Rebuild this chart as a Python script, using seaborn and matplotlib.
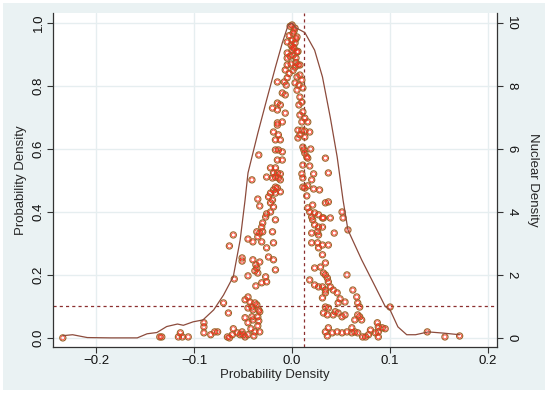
import matplotlib
matplotlib.use("Agg")
from matplotlib import pyplot as plt
from matplotlib.patches import Rectangle
import seaborn as sns
import pandas as pd

# scattered observations (left axis)
pt_x = [
    -0.234, -0.135, -0.133, -0.116, -0.114, -0.112, -0.106, -0.090, -0.090, -0.090,
    -0.083, -0.079, -0.076, -0.070, -0.065,
    -0.060, -0.064, -0.051, -0.051, -0.059, -0.066, -0.064, -0.061, -0.060, -0.056,
    -0.053, -0.050, -0.048, -0.051, -0.045, -0.040, -0.035, -0.031, -0.026, -0.019,
    -0.040, -0.037, -0.036, -0.038, -0.033, -0.045, -0.035, -0.027, -0.026, -0.031,
    -0.037, -0.024, -0.019, -0.017, -0.045, -0.048, -0.043, -0.038, -0.041, -0.036,
    -0.034, -0.040, -0.045, -0.033, -0.035, -0.041, -0.048, -0.045, -0.040, -0.034,
    -0.035, -0.042, -0.038, -0.033, -0.039, -0.045,
    -0.015, -0.019, -0.014, -0.017, -0.012, -0.014, -0.017, -0.010, -0.015, -0.010,
    -0.022, -0.017, -0.019, -0.015, -0.012, -0.017, -0.026, -0.020, -0.014, -0.012,
    -0.017, -0.015, -0.019, -0.022, -0.017, -0.012, -0.024, -0.020, -0.022, -0.019,
    -0.022, -0.026, -0.027, -0.017, -0.030, -0.031, -0.036, -0.030, -0.020, -0.033,
    -0.034, -0.041, -0.035, -0.033,
    -0.005, -0.005, -0.005, -0.005, -0.007, -0.005, -0.008, -0.015, -0.006, -0.010,
    -0.007, -0.012, -0.015, -0.015, -0.007, -0.010, -0.015, -0.020,
    0.000, 0.003, 0.001, 0.005, 0.000, 0.003, 0.001, 0.000, 0.005, 0.001,
    0.004, 0.006, 0.003, 0.008, 0.008, 0.005, 0.010, 0.003, 0.007, 0.005,
    0.011, 0.008, 0.010, 0.007, 0.011, 0.008, 0.013, 0.010, 0.016,
    -0.002, 0.002, -0.003, 0.004, -0.001, 0.002, -0.002, 0.006, 0.004, -0.001,
    0.001, -0.003,
    0.006, 0.010, 0.013, 0.018, 0.008, 0.006, 0.013, 0.011, 0.012, 0.013,
    0.015, 0.016, 0.019, 0.034, 0.011, 0.018, 0.010, 0.011, 0.020, 0.022,
    0.037, 0.011, 0.013, 0.016, 0.022, 0.028, 0.015,
    0.016, 0.018, 0.021, 0.023, 0.027, 0.031, 0.020, 0.021, 0.023, 0.027,
    0.031, 0.032, 0.026, 0.027, 0.020, 0.034, 0.039, 0.020, 0.026, 0.031,
    0.037, 0.027, 0.031, 0.034, 0.037, 0.051, 0.052, 0.043, 0.057, 0.056,
    0.018, 0.023, 0.029, 0.032, 0.034, 0.036, 0.037, 0.023, 0.027, 0.031,
    0.034, 0.039, 0.042, 0.046, 0.049, 0.054, 0.034, 0.031, 0.034, 0.037,
    0.032, 0.036, 0.042, 0.044, 0.047, 0.047, 0.051, 0.054, 0.062, 0.066,
    0.067, 0.069, 0.067, 0.069, 0.071, 0.064, 0.061, 0.056, 0.051, 0.046,
    0.041, 0.037, 0.034, 0.036, 0.061, 0.064, 0.067, 0.072, 0.075, 0.078,
    0.080, 0.087, 0.088, 0.092, 0.095, 0.088, 0.085, 0.088, 0.100, 0.138,
    0.156, 0.171,
]
pt_y = [
    0.000, 0.003, 0.003, 0.003, 0.016, 0.003, 0.003, 0.048, 0.035, 0.016,
    0.010, 0.019, 0.019, 0.111, 0.079,
    0.327, 0.292, 0.254, 0.244, 0.187, 0.003, 0.000, 0.010, 0.029, 0.016,
    0.010, 0.010, 0.003, 0.019, 0.314, 0.305, 0.321, 0.305, 0.286, 0.302,
    0.248, 0.232, 0.222, 0.213, 0.241, 0.197, 0.206, 0.194, 0.178, 0.175,
    0.165, 0.257, 0.248, 0.216, 0.130, 0.121, 0.114, 0.111, 0.098, 0.105,
    0.089, 0.089, 0.095, 0.083, 0.067, 0.067, 0.064, 0.048, 0.057, 0.054,
    0.038, 0.029, 0.019, 0.019, 0.006, 0.010,
    0.676, 0.654, 0.645, 0.629, 0.629, 0.597, 0.597, 0.591, 0.565, 0.565,
    0.540, 0.540, 0.524, 0.524, 0.521, 0.511, 0.511, 0.508, 0.508, 0.502,
    0.479, 0.476, 0.470, 0.460, 0.460, 0.464, 0.448, 0.438, 0.429, 0.416,
    0.400, 0.394, 0.384, 0.375, 0.365, 0.352, 0.337, 0.337, 0.337, 0.333,
    0.581, 0.502, 0.441, 0.419,
    0.940, 0.905, 0.889, 0.867, 0.851, 0.826, 0.813, 0.813, 0.803, 0.778,
    0.772, 0.740, 0.746, 0.724, 0.714, 0.686, 0.683, 0.730,
    0.994, 0.984, 0.968, 0.956, 0.946, 0.937, 0.924, 0.914, 0.908, 0.898,
    0.889, 0.867, 0.860, 0.867, 0.835, 0.829, 0.819, 0.810, 0.803, 0.787,
    0.794, 0.765, 0.749, 0.740, 0.718, 0.708, 0.698, 0.686, 0.686,
    0.990, 0.975, 0.960, 0.950, 0.930, 0.920, 0.895, 0.910, 0.875, 0.870,
    0.850, 0.840,
    0.660, 0.660, 0.657, 0.654, 0.645, 0.635, 0.638, 0.606, 0.597, 0.587,
    0.575, 0.571, 0.600, 0.571, 0.549, 0.546, 0.521, 0.508, 0.502, 0.521,
    0.524, 0.479, 0.476, 0.483, 0.473, 0.470, 0.451,
    0.413, 0.400, 0.422, 0.397, 0.391, 0.381, 0.384, 0.375, 0.359, 0.352,
    0.352, 0.381, 0.337, 0.327, 0.333, 0.429, 0.381, 0.302, 0.302, 0.295,
    0.295, 0.286, 0.264, 0.238, 0.432, 0.400, 0.381, 0.333, 0.343, 0.200,
    0.184, 0.222, 0.225, 0.206, 0.200, 0.190, 0.178, 0.168, 0.162, 0.162,
    0.152, 0.162, 0.152, 0.143, 0.124, 0.114, 0.143, 0.127, 0.098, 0.095,
    0.079, 0.073, 0.073, 0.083, 0.111, 0.079, 0.067, 0.073, 0.152, 0.130,
    0.111, 0.098, 0.073, 0.067, 0.057, 0.057, 0.032, 0.019, 0.016, 0.019,
    0.016, 0.032, 0.019, 0.006, 0.016, 0.019, 0.016, 0.003, 0.003, 0.010,
    0.025, 0.048, 0.035, 0.032, 0.029, 0.019, 0.016, 0.003, 0.098, 0.019,
    0.003, 0.006,
]

# kernel density curve (right axis)
kd_x = [-0.234, -0.224, -0.209, -0.185, -0.158, -0.148, -0.138, -0.128, -0.117, -0.111,
        -0.101, -0.091, -0.080, -0.070, -0.060, -0.053, -0.048, -0.045, -0.035, -0.026,
        -0.017, -0.010, -0.004, 0.000, 0.004, 0.013, 0.023, 0.031, 0.039, 0.046,
        0.052, 0.057, 0.071, 0.085, 0.095, 0.100, 0.108, 0.117, 0.126, 0.139,
        0.155, 0.171]
kd_y = [0.07, 0.10, 0.01, 0.00, 0.00, 0.13, 0.17, 0.36, 0.44, 0.40,
        0.51, 0.57, 0.89, 1.36, 1.95, 3.11, 4.38, 5.24, 6.50, 7.56,
        8.60, 9.37, 9.94, 10.0, 9.85, 9.70, 9.14, 8.29, 7.00, 5.75,
        4.38, 3.43, 2.48, 1.62, 1.00, 0.89, 0.35, 0.10, 0.10, 0.19,
        0.15, 0.10]

ref_x = 0.012
ref_y = 0.1

sns.set_style("white")
plt.rcParams['font.family'] = ['Liberation Sans', 'DejaVu Sans']

pts = pd.DataFrame({"x": pt_x, "y": pt_y})
kd = pd.DataFrame({"x": kd_x, "y": kd_y})

fig = plt.figure(figsize=(5.5, 3.95), dpi=100, facecolor="white")
fig.patches.append(Rectangle((0.0055, 0.0127), 0.985, 0.98, transform=fig.transFigure,
                             facecolor="#eaf2f3", edgecolor="none", zorder=-10))
ax = fig.add_axes([0.0964, 0.1215, 0.807, 0.8455])
ax.set_facecolor("white")

grid_c = "#e6eef0"
for t in [-0.2, -0.1, 0.0, 0.1, 0.2]:
    ax.axvline(t, color=grid_c, lw=1, zorder=0)
for t in [0, 0.2, 0.4, 0.6, 0.8, 1.0]:
    ax.axhline(t, color=grid_c, lw=1, zorder=0)

ax2 = ax.twinx()
sns.lineplot(data=kd, x="x", y="y", ax=ax2, color="#8c4b3c", lw=0.9, sort=False, zorder=2)

sns.scatterplot(data=pts, x="x", y="y", ax=ax, s=20, facecolors="none",
                edgecolor="#9a6428", linewidth=0.8, zorder=3)
sns.scatterplot(data=pts, x="x", y="y", ax=ax, s=8, facecolors="none",
                edgecolor="#ff2a1a", linewidth=0.5, zorder=4)

ax.axvline(ref_x, color="#8b2f2f", lw=0.9, ls=(0, (2.5, 2.5)), zorder=1)
ax.axhline(ref_y, color="#8b2f2f", lw=0.9, ls=(0, (2.5, 2.5)), zorder=1)

ax.set_xlim(-0.244, 0.209)
ax.set_ylim(-0.029, 1.032)
ax2.set_ylim(-0.29, 10.32)

ax.set_xticks([-0.2, -0.1, 0.0, 0.1, 0.2])
ax.set_xticklabels(["\u22120.2", "\u22120.1", "0.0", "0.1", "0.2"])
ax.set_yticks([0, 0.2, 0.4, 0.6, 0.8, 1.0])
ax.set_yticklabels(["0.0", "0.2", "0.4", "0.6", "0.8", "1.0"], rotation=90, va="center")
ax2.set_yticks([0, 2, 4, 6, 8, 10])
ax2.set_yticklabels(["0", "2", "4", "6", "8", "10"], rotation=-90, va="center")

for a in (ax, ax2):
    a.tick_params(direction="out", length=4, width=0.8, color="#333333", labelsize=9.5,
                  labelcolor="#111111", pad=2)
    a.spines["top"].set_visible(False)
    for s in ("left", "right", "bottom"):
        a.spines[s].set_color("#333333")
        a.spines[s].set_linewidth(0.9)
ax.spines["right"].set_visible(False)
ax2.spines["left"].set_visible(False)
ax2.spines["bottom"].set_visible(False)
ax.tick_params(axis="both", left=True, bottom=True)
ax2.tick_params(axis="y", right=True)

ax.set_xlabel("Probability Density", fontsize=9.5, labelpad=1)
ax.set_ylabel("Probability Density", fontsize=9.5, labelpad=4)
ax2.set_ylabel("Nuclear Density", fontsize=9.5, rotation=-90, labelpad=16)

plt.savefig("out.png", dpi=100, facecolor=fig.get_facecolor())
